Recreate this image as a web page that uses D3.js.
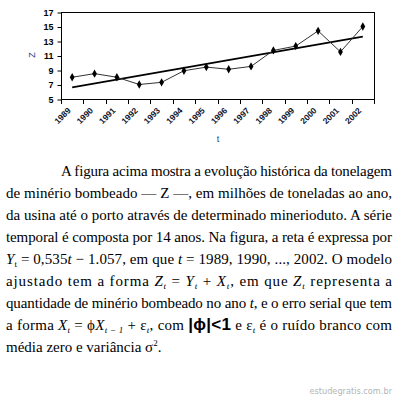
<!DOCTYPE html>
<html>
<head>
<meta charset="utf-8">
<script src="https://cdn.jsdelivr.net/npm/d3@7"></script>
<style>
  body { margin: 0; background: #fff; }
  svg { display: block; }
</style>
</head>
<body>
<div id="chart"></div>
<script>
// data
var years = [1989, 1990, 1991, 1992, 1993, 1994, 1995, 1996, 1997, 1998, 1999, 2000, 2001, 2002];
var zValues = [8.0, 8.5, 8.0, 7.0, 7.3, 8.9, 9.4, 9.1, 9.5, 11.7, 12.3, 14.4, 11.5, 15.0];
var trendYears = [1989, 2002];
var trendValues = [6.6, 13.6];
var yTicks = [5, 7, 9, 11, 13, 15, 17];

// text under the chart, one entry per line: [text, style]
var textLines = [
    [["A figura acima mostra a evolução histórica da tonelagem", ""]],
    [["de minério bombeado — Z —, em milhões de toneladas ao ano,", ""]],
    [["da usina até o porto através de determinado minerioduto. A série", ""]],
    [["temporal é composta por 14 anos. Na figura, a reta é expressa por", ""]],
    [["Y", "i"], ["t", "sub"], [" = 0,535", ""], ["t", "i"], [" − 1.057, em que ", ""], ["t", "i"], [" = 1989, 1990, ..., 2002. O modelo", ""]],
    [["ajustado tem a forma ", ""], ["Z", "i"], ["t", "isub"], [" = ", ""], ["Y", "i"], ["t", "isub"], [" + ", ""], ["X", "i"], ["t", "isub"], [", em que ", ""], ["Z", "i"], ["t", "isub"], [" representa a", ""]],
    [["quantidade de minério bombeado no ano ", ""], ["t", "i"], [", e o erro serial que tem", ""]],
    [["a forma ", ""], ["X", "i"], ["t", "isub"], [" = ϕ", ""], ["X", "i"], ["t − 1", "isub"], [" + ε", ""], ["t", "isub"], [", com ", ""], ["|ϕ|<1", "b"], [" e ε", ""], ["t", "isub"], [" é o ruído branco com", ""]],
    [["média zero e variância σ", ""], ["2", "sup"], [".", ""]]
];

var width = 395, height = 401;
var plot = {left: 61, right: 374, top: 12, bottom: 99};

var svg = d3.select("#chart").append("svg")
    .attr("width", width)
    .attr("height", height);

var x = d3.scaleBand()
    .domain(years)
    .range([plot.left, plot.right]);

var y = d3.scaleLinear()
    .domain([5, 17])
    .range([plot.bottom, plot.top]);

var cx = function(d){ return x(d) + x.bandwidth() / 2; };

// frame
svg.append("rect")
    .attr("x", plot.left + 0.5)
    .attr("y", plot.top + 0.5)
    .attr("width", plot.right - plot.left)
    .attr("height", plot.bottom - plot.top)
    .attr("fill", "none")
    .attr("stroke", "#000")
    .attr("stroke-width", 1);

// y axis
var yAxis = svg.append("g")
    .attr("transform", "translate(" + (plot.left + 0.5) + ",0.5)")
    .call(d3.axisLeft(y).tickValues(yTicks).tickSize(4).tickPadding(4));
yAxis.select(".domain").remove();
yAxis.selectAll("line").attr("stroke", "#000");
yAxis.selectAll("text")
    .attr("fill", "#000")
    .style("font-family", "'Liberation Sans', Arial, sans-serif")
    .style("font-weight", "bold")
    .style("font-size", "9px");

// x ticks at category borders
var borders = years.map(function(d){ return x(d); }).concat([plot.right]);
svg.append("g").selectAll("line")
    .data(borders)
    .enter().append("line")
    .attr("x1", function(d){ return Math.round(d) + 0.5; })
    .attr("x2", function(d){ return Math.round(d) + 0.5; })
    .attr("y1", plot.bottom)
    .attr("y2", plot.bottom + 5)
    .attr("stroke", "#000");

// x labels, rotated
svg.append("g").selectAll("text")
    .data(years)
    .enter().append("text")
    .attr("transform", function(d){ return "translate(" + (cx(d) - 3) + "," + (plot.bottom + 10) + ")rotate(-45)"; })
    .attr("text-anchor", "end")
    .attr("dy", "0.35em")
    .style("font-family", "'Liberation Sans', Arial, sans-serif")
    .style("font-weight", "bold")
    .style("font-size", "8.5px")
    .attr("fill", "#10152e")
    .text(function(d){ return d; });

// axis titles
svg.append("text")
    .attr("transform", "translate(35,55)rotate(-90)")
    .attr("text-anchor", "middle")
    .style("font-family", "'Liberation Sans', Arial, sans-serif")
    .style("font-size", "9px")
    .attr("fill", "#1c3f94")
    .text("Z");

svg.append("text")
    .attr("x", 218)
    .attr("y", 142)
    .attr("text-anchor", "middle")
    .style("font-family", "'Liberation Sans', Arial, sans-serif")
    .style("font-size", "9px")
    .attr("fill", "#1c3f94")
    .text("t");

// trend line
svg.append("line")
    .attr("x1", cx(trendYears[0]))
    .attr("y1", y(trendValues[0]))
    .attr("x2", cx(trendYears[1]))
    .attr("y2", y(trendValues[1]))
    .attr("stroke", "#000")
    .attr("stroke-width", 1.6);

// data series
var line = d3.line()
    .x(function(d, i){ return cx(years[i]); })
    .y(function(d){ return y(d); });

svg.append("path")
    .datum(zValues)
    .attr("d", line)
    .attr("fill", "none")
    .attr("stroke", "#333")
    .attr("stroke-width", 1);

svg.append("g").selectAll("path")
    .data(zValues)
    .enter().append("path")
    .attr("d", d3.symbol().type(d3.symbolDiamond).size(20))
    .attr("transform", function(d, i){ return "translate(" + cx(years[i]) + "," + y(d) + ")"; })
    .attr("fill", "#000");

// paragraph
var baseY = 176, lineGap = 22;
var text = svg.append("g")
    .style("font-family", "'Liberation Serif', 'Times New Roman', serif")
    .style("font-size", "15px")
    .attr("fill", "#000");

textLines.forEach(function(segs, li){
    var startX = li === 0 ? 61 : 6;
    var t = text.append("text")
        .attr("x", startX)
        .attr("y", baseY + li * lineGap);
    if (li < textLines.length - 1) {
        t.attr("textLength", 392 - startX).attr("lengthAdjust", "spacing");
    }
    var shift = 0;
    segs.forEach(function(s){
        var sp = t.append("tspan").text(s[0]);
        var target = 0;
        if (s[1] === "i") sp.style("font-style", "italic");
        if (s[1] === "sub" || s[1] === "isub") {
            sp.style("font-size", "9px");
            if (s[1] === "isub") sp.style("font-style", "italic");
            target = 3;
        }
        if (s[1] === "sup") {
            sp.style("font-size", "9px");
            target = -6;
        }
        if (s[1] === "b") {
            sp.style("font-family", "'Liberation Sans', Arial, sans-serif")
                .style("font-weight", "bold")
                .style("font-size", "17px");
        }
        if (target !== shift) {
            sp.attr("dy", target - shift);
            shift = target;
        }
    });
});

// watermark
svg.append("text")
    .attr("x", 392)
    .attr("y", 394)
    .attr("text-anchor", "end")
    .style("font-family", "'DejaVu Sans', Verdana, sans-serif")
    .style("font-size", "8.2px")
    .attr("fill", "#b4b4b4")
    .text("estudegratis.com.br");
</script>
</body>
</html>
